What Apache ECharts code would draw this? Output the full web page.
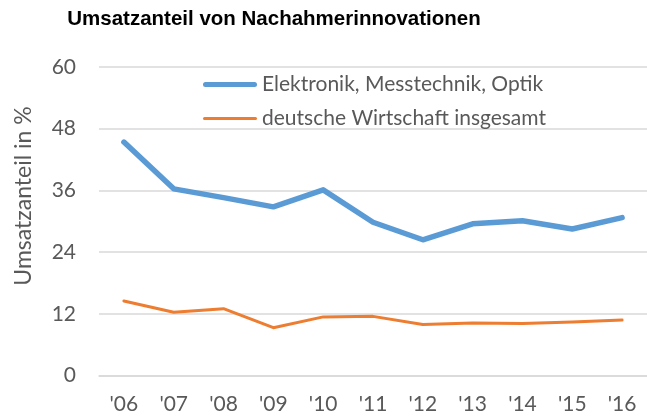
<!DOCTYPE html>
<html><head><meta charset="utf-8">
<script src="https://cdn.jsdelivr.net/npm/echarts@6/dist/echarts.min.js"></script>
<style>html,body{margin:0;padding:0;background:#fff}#c{width:647px;height:418px}</style>
</head><body><div id="c"></div>
<script>
const categories = ["'06","'07","'08","'09","'10","'11","'12","'13","'14","'15","'16"];
const elektronik = [45.4, 36.3, 34.6, 32.8, 36.1, 29.8, 26.4, 29.5, 30.1, 28.5, 30.7];
const gesamt = [14.5, 12.3, 13.0, 9.3, 11.4, 11.5, 9.9, 10.2, 10.1, 10.4, 10.8];
const seriesNames = ["Elektronik, Messtechnik, Optik", "deutsche Wirtschaft insgesamt"];
const yTicks = {min: 0, max: 60, interval: 12};

const font = "Lato, 'Open Sans', sans-serif";
const chart = echarts.init(document.getElementById('c'), null, {renderer: 'canvas'});
chart.setOption({
  animation: false,
  title: {
    text: 'Umsatzanteil von Nachahmerinnovationen',
    left: 274, top: 9, textAlign: 'center', padding: 0,
    textStyle: {fontFamily: "'Liberation Sans', Arial, sans-serif", fontWeight: 'bold', fontSize: 20.5, color: '#000'}
  },
  graphic: [{
    type: 'text', x: 24, y: 196, rotation: Math.PI / 2,
    style: {text: 'Umsatzanteil in %', font: "23px " + font, fill: '#595959', align: 'center', verticalAlign: 'middle'}
  }],
  legend: {
    orient: 'vertical', left: 203, top: 74, padding: 0, itemWidth: 54, itemHeight: 24, itemGap: 13,
    textStyle: {fontFamily: font, fontSize: 21, color: '#595959'},
    data: [
      {name: seriesNames[0], icon: 'path://M2.5,0H51.5A2.5,2.5,0,0,1,51.5,5H2.5A2.5,2.5,0,0,1,2.5,0Z'},
      {name: seriesNames[1], icon: 'path://M1.5,0H52.5A1.5,1.5,0,0,1,52.5,3H1.5A1.5,1.5,0,0,1,1.5,0Z'}
    ]
  },
  grid: {left: 99, right: -10, top: 67, bottom: 42.5, containLabel: false},
  xAxis: {
    type: 'category', data: categories, boundaryGap: true,
    axisLine: {show: true, lineStyle: {color: '#D9D9D9', width: 1.5}},
    axisTick: {show: false},
    axisLabel: {fontFamily: font, fontSize: 21, color: '#595959', margin: 18}
  },
  yAxis: {
    type: 'value', min: yTicks.min, max: yTicks.max, interval: yTicks.interval,
    axisLine: {show: false}, axisTick: {show: false},
    splitLine: {lineStyle: {color: '#D9D9D9', width: 1.5}},
    axisLabel: {fontFamily: font, fontSize: 21, color: '#595959', margin: 23}
  },
  series: [
    {name: seriesNames[0], type: 'line', data: elektronik, symbol: 'none',
     lineStyle: {color: '#5B9BD5', width: 5.5, cap: 'round', join: 'round'}, itemStyle: {color: '#5B9BD5'}},
    {name: seriesNames[1], type: 'line', data: gesamt, symbol: 'none',
     lineStyle: {color: '#ED7D31', width: 3, cap: 'round', join: 'round'}, itemStyle: {color: '#ED7D31'}}
  ]
});
</script></body></html>
